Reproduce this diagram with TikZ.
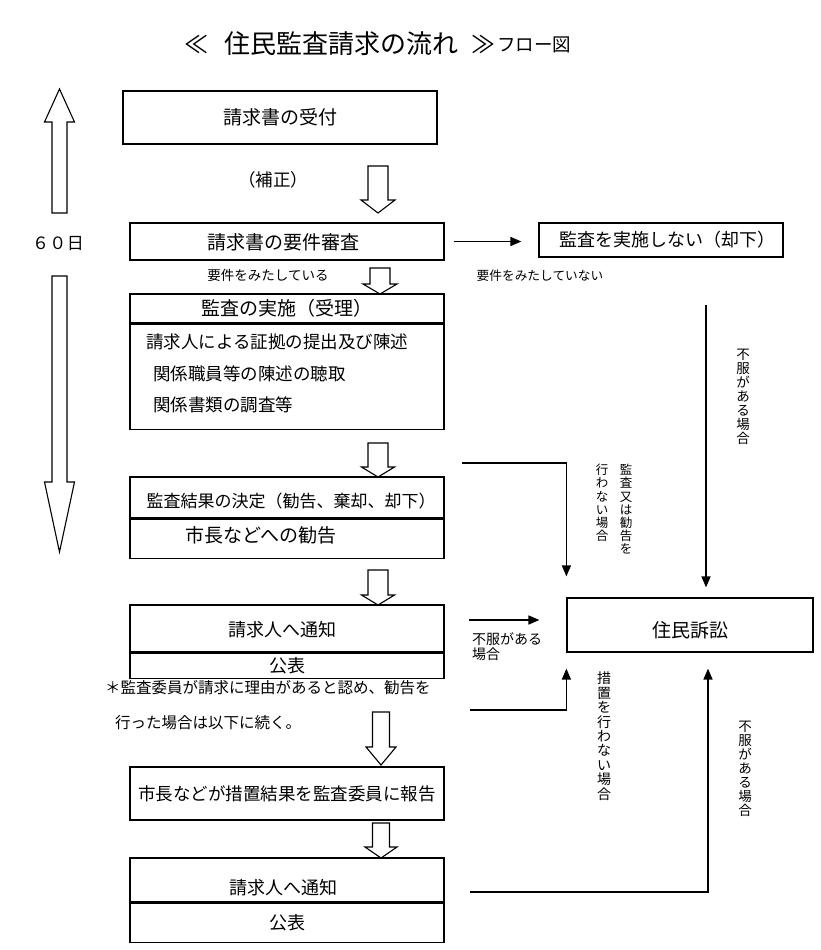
\documentclass[tikz,border=0pt]{standalone}
\usepackage{fontspec}
\setmainfont{Noto Sans CJK JP}
\usetikzlibrary{arrows.meta}
\newcommand\fsz[1]{\fontsize{#1}{#1}\selectfont}
\newcommand\bdown[6]{% cx, tail, base, tip, halfshaft, halfhead
  \draw[blk] ({#1-#5},#2) -- ({#1+#5},#2) -- ({#1+#5},#3) -- ({#1+#6},#3) -- (#1,#4) -- ({#1-#6},#3) -- ({#1-#5},#3) -- cycle;}
\tikzset{
  box/.style={draw, line width=1.2pt, inner sep=0pt, minimum width=314pt},
  conn/.style={line width=1.6pt, -{Triangle[width=9pt,length=11pt]}},
  blk/.style={draw, line width=1.1pt, fill=white},
  vt/.style={align=center, inner sep=0pt, anchor=north},
  txt/.style={inner sep=0pt},
}
\begin{document}
\begin{tikzpicture}[x=1pt,y=-1pt]
\useasboundingbox (0,0) rectangle (820,950);
% title
\node[txt, font=\fsz{24}] (t1) at (196,44) {≪};
\node[txt, font=\fsz{26}] (t2) at (341,44) {住民監査請求の流れ};
\node[txt, font=\fsz{24}] (t3) at (483,44) {≫};
\node[txt, font=\fsz{18.5}, anchor=west] (t4) at (497,45) {フロー図};
% left big arrows and 60 days
\bdown{59.5}{213}{122}{89}{7.5}{15}
\bdown{59.5}{276}{482}{552}{7.5}{15}
\node[txt, font=\fsz{17}] (d60) at (58,244) {６\kern0.5pt０\kern0.5pt日};
% boxes
\node[box, minimum height=53pt, font=\fsz{19}] (b1) at (280,117.5) {請求書の受付};
\node[txt, font=\fsz{17.5}] (hosei) at (273,180) {（補正）};
\node[box, minimum height=37pt] (b2) at (287,241.5) {};
\node[txt, font=\fsz{19}] at (283,242) {請求書の要件審査};
\node[txt, font=\fsz{13.5}] (ok) at (268,275) {要件をみたしている};
\node[box, minimum height=29pt, font=\fsz{19}] (b3t) at (287,308.5) {監査の実施（受理）};
\node[box, minimum height=105pt, anchor=north] (b3b) at (b3t.south) {};
\node[txt, font=\fsz{17.5}, anchor=west] at (146,342) {請求人による証拠の提出及び陳述};
\node[txt, font=\fsz{17.5}, anchor=west] at (153,374) {関係職員等の陳述の聴取};
\node[txt, font=\fsz{17.5}, anchor=west] at (153,405) {関係書類の調査等};
\node[box, minimum height=41pt] (b4t) at (287,497.5) {};
\node[txt, font=\fsz{17}] at (291,501) {監査結果の決定（勧告、棄却、却下）};
\node[box, minimum height=39pt, anchor=north] (b4b) at (b4t.south) {};
\node[txt, font=\fsz{19}, anchor=west] at (185,535) {市長などへの勧告};
\node[box, minimum height=47pt] (b5t) at (287,628.5) {};
\node[txt, font=\fsz{18}] at (282,630) {請求人へ通知};
\node[box, minimum height=25pt, anchor=north, font=\fsz{18}] (b5b) at (b5t.south) {公表};
\node[txt, font=\fsz{15.5}, anchor=west] (note1) at (105,688) {＊監査委員が請求に理由があると認め、勧告を};
\node[txt, font=\fsz{15.5}, anchor=west] (note2) at (115,723) {行った場合は以下に続く。};
\node[box, minimum height=53pt, font=\fsz{17.5}] (b6) at (287,793.5) {市長などが措置結果を監査委員に報告};
\node[box, minimum height=44pt] (b7t) at (287,880) {};
\node[txt, font=\fsz{18}] at (283,888) {請求人へ通知};
\node[box, minimum height=39pt, anchor=north, font=\fsz{18}] (b7b) at (b7t.south) {公表};
% block arrows between boxes
\bdown{378}{166}{200}{213}{10}{17}
\bdown{380}{268}{284}{294}{10}{17}
\bdown{378}{443}{467}{477}{10}{16.5}
\bdown{378}{570}{595}{605}{10}{16.5}
\bdown{381}{712}{747}{765}{8.5}{15}
\bdown{381}{823}{847}{858}{8.5}{16}
% right side
\node[box, minimum width=244pt, minimum height=34pt] (kyakka) at (661,240) {};
\node[txt, font=\fsz{18}] at (667,240) {監査を実施しない（却下）};
\node[txt, font=\fsz{12.7}] (ng) at (540,276) {要件をみたしていない};
\node[box, minimum width=246pt, minimum height=54pt] (soshou) at (690,625) {};
\node[txt, font=\fsz{19}] at (690,630) {住民訴訟};
\draw[conn, shorten <=9pt, shorten >=17pt] (b2.east) -- (b2.east -| kyakka.west);
\coordinate (r1) at (706,305);
\draw[conn, shorten >=10pt] (r1) -- (r1 |- soshou.north);
\node[vt, font={\fontsize{13.5}{14}\selectfont}] at (743,349) {不\\服\\が\\あ\\る\\場\\合};
\coordinate (c1) at (462,463);
\draw[conn, shorten >=21pt] (c1) -| (soshou.north west);
\node[vt, font={\fontsize{12.5}{13.2}\selectfont}] at (626,464) {監\\査\\又\\は\\勧\\告\\を};
\node[vt, font={\fontsize{12.5}{13.2}\selectfont}] at (602,464) {行\\わ\\な\\い\\場\\合};
\coordinate (c2) at (469,620);
\draw[conn, shorten >=27pt] (c2) -- (c2 -| soshou.west);
\node[txt, font={\fontsize{14}{15}\selectfont}, align=left, anchor=north west] at (472,632) {不服がある\\場合};
\coordinate (c3) at (470,710);
\draw[conn, shorten >=16pt] (c3) -| (soshou.south west);
\node[vt, font={\fontsize{14}{14.4}\selectfont}] at (604,672) {措\\置\\を\\行\\わ\\な\\い\\場\\合};
\coordinate (c4) at (470,892);
\draw[conn, shorten >=16pt] (c4) -| ([xshift=18pt]soshou.south);
\node[vt, font={\fontsize{13.5}{14}\selectfont}] at (745,721) {不\\服\\が\\あ\\る\\場\\合};
\end{tikzpicture}
\end{document}
